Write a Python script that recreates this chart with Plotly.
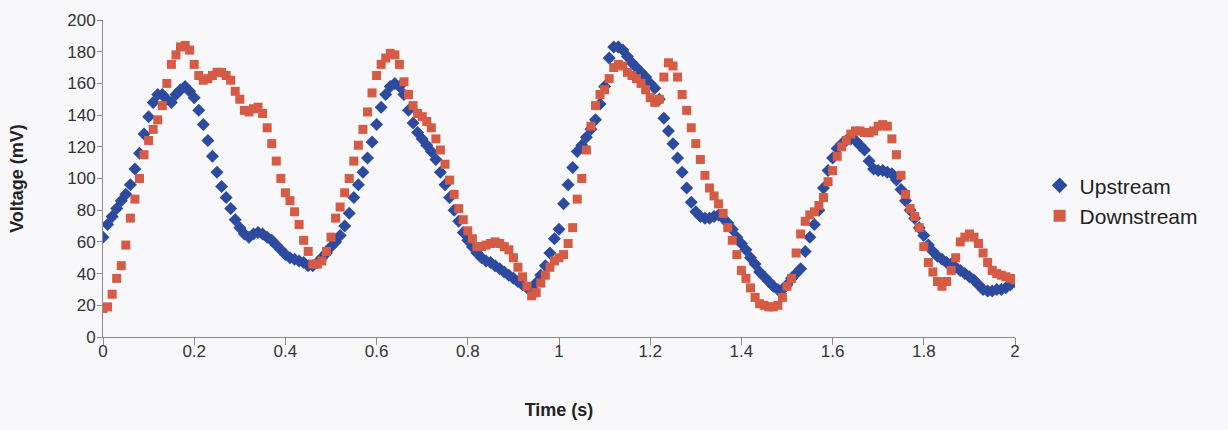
import plotly.graph_objects as go

# Time axis (s), 0.00 .. 2.00 in 0.01 steps
time_s = [round(i * 0.01, 2) for i in range(201)]

upstream_mv = [
    63, 71, 76, 81, 86, 90, 96, 106, 116, 128,
    139, 148, 153, 153, 150, 148, 153, 156, 158, 155,
    151, 143, 134, 124, 114, 104, 95, 88, 81, 74,
    69, 65, 63, 65, 66, 65, 63, 61, 58, 55,
    52, 50, 49, 48, 47, 45, 45, 47, 50, 53,
    57, 60, 64, 70, 78, 88, 96, 104, 113, 123,
    134, 145, 153, 158, 160, 158, 153, 143, 135, 129,
    125, 121, 117, 112, 104, 96, 88, 80, 73, 66,
    61, 57, 53, 50, 48, 47, 45, 43, 41, 39,
    37, 35, 33, 31, 30, 34, 39, 45, 53, 62,
    68, 84, 96, 107, 117, 121, 126, 131, 137, 147,
    158, 176, 183, 183, 181, 177, 173, 170, 167, 164,
    160, 157, 150, 138, 130, 122, 113, 104, 94, 85,
    79, 76, 75, 75, 76, 77, 75, 72, 68, 63,
    59, 55, 50, 46, 41, 38, 35, 32, 30, 30,
    33, 37, 40, 43, 54, 63, 71, 80, 94, 105,
    113, 119, 122, 124, 125, 124, 121, 118, 111, 106,
    105, 105, 104, 103, 99, 93, 86, 80, 75, 69,
    64, 58, 54, 51, 49, 47, 46, 44, 42, 40,
    38, 36, 33, 30, 29, 29, 30, 30, 31, 33,
    35,
]

downstream_mv = [
    18, 19, 27, 37, 45, 58, 75, 87, 100, 115,
    124, 131, 137, 146, 160, 172, 178, 183, 184, 181,
    172, 165, 162, 163, 165, 167, 167, 165, 162, 155,
    150, 143, 142, 144, 145, 141, 132, 122, 111, 100,
    91, 86, 79, 71, 61, 54, 46, 46, 48, 54,
    63, 75, 82, 91, 100, 111, 121, 131, 142, 154,
    165, 172, 176, 179, 178, 172, 161, 153, 146, 141,
    139, 136, 132, 125, 118, 109, 99, 90, 81, 74,
    67, 62, 57, 57, 58, 59, 60, 59, 57, 55,
    50, 44, 38, 32, 26, 28, 34, 39, 44, 48,
    50, 52, 59, 69, 87, 100, 118, 133, 146, 153,
    156, 163, 170, 172, 171, 167, 165, 163, 160, 156,
    151, 148, 150, 164, 173, 171, 164, 153, 143, 132,
    122, 112, 102, 94, 89, 84, 78, 69, 61, 52,
    42, 37, 31, 25, 21, 20, 19, 19, 20, 25,
    32, 37, 53, 65, 73, 77, 79, 83, 88, 98,
    105, 114, 120, 124, 128, 130, 130, 129, 129, 130,
    133, 134, 133, 125, 115, 102, 90, 81, 76, 69,
    57, 47, 41, 35, 32, 35, 42, 50, 60, 63,
    65, 63, 59, 53, 47, 42, 40, 39, 38, 37,
    36,
]

x_ticks = [0, 0.2, 0.4, 0.6, 0.8, 1, 1.2, 1.4, 1.6, 1.8, 2]
x_tick_labels = ["0", "0.2", "0.4", "0.6", "0.8", "1", "1.2", "1.4", "1.6", "1.8", "2"]
y_ticks = [0, 20, 40, 60, 80, 100, 120, 140, 160, 180, 200]

BLUE = "#2D4B9E"
RED = "#D65B45"
BG = "#F8F8FA"
FONT = "Liberation Sans, Arial, sans-serif"

fig = go.Figure()
fig.add_trace(go.Scatter(
    x=time_s, y=upstream_mv, mode="markers", name="Upstream",
    marker=dict(symbol="diamond", size=10, color=BLUE, line=dict(width=0)),
))
fig.add_trace(go.Scatter(
    x=time_s, y=downstream_mv, mode="markers", name="Downstream",
    marker=dict(symbol="square", size=9, color=RED, line=dict(width=0)),
))

fig.update_layout(
    width=1228, height=430,
    margin=dict(l=103, r=213, t=20, b=93),
    paper_bgcolor=BG, plot_bgcolor=BG,
    font=dict(family=FONT, color="#333333", size=16),
    showlegend=True,
    legend=dict(
        x=1.027, y=0.43, xanchor="left", yanchor="middle",
        font=dict(family=FONT, size=21, color="#222222"),
        bgcolor="rgba(0,0,0,0)", itemsizing="constant",
        tracegroupgap=4,
    ),
)
fig.update_xaxes(
    range=[0, 2], tickmode="array", tickvals=x_ticks, ticktext=x_tick_labels,
    showgrid=False, zeroline=False, showline=True, linecolor="#8a8a8a", linewidth=1,
    ticks="outside", ticklen=7, tickcolor="#8a8a8a",
    tickfont=dict(size=17, color="#333333"), ticklabelstandoff=-8,
    title=dict(text="<b>Time (s)</b>", font=dict(size=18, color="#222222"), standoff=42),
)
fig.update_yaxes(
    range=[0, 200], tickmode="array", tickvals=y_ticks,
    showgrid=False, zeroline=False, showline=True, linecolor="#8a8a8a", linewidth=1,
    ticks="outside", ticklen=5, tickcolor="#8a8a8a",
    tickfont=dict(size=17, color="#333333"), ticklabelstandoff=-2,
    title=dict(text="<b>Voltage (mV)</b>", font=dict(size=18, color="#222222"), standoff=38),
)

fig.write_html(
    "out.html",
    config={"displayModeBar": False},
    post_script="document.body.style.margin='0';document.body.style.background='#F8F8FA';",
)
